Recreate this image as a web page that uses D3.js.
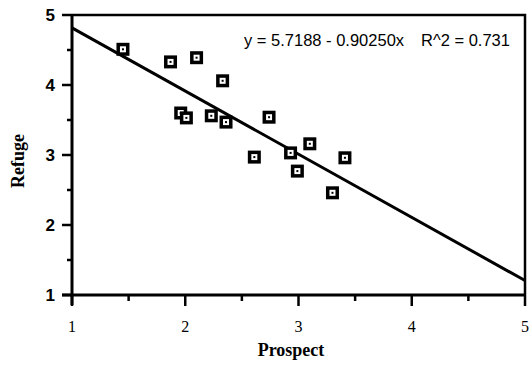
<!DOCTYPE html>
<html>
<head>
<meta charset="utf-8">
<script src="https://cdn.jsdelivr.net/npm/d3@7"></script>
<style>
  html, body { margin: 0; padding: 0; background: #fff; }
  svg { display: block; }
</style>
</head>
<body>
<svg id="chart" width="529" height="366"></svg>
<script>
// Prospect vs. refuge ratings with a least-squares fit
const prospect = [1.45, 1.87, 2.10, 2.33, 1.96, 2.01, 2.23, 2.36, 2.61, 2.74, 2.93, 3.10, 2.99, 3.41, 3.30];
const refuge   = [4.51, 4.33, 4.39, 4.06, 3.60, 3.53, 3.56, 3.47, 2.97, 3.54, 3.03, 3.16, 2.77, 2.96, 2.46];
const fitIntercept = 5.7188;
const fitSlope = -0.90250;
const rSquared = 0.731;
const xTicks = [1, 2, 3, 4, 5];
const yTicks = [1, 2, 3, 4, 5];
const xMinorTicks = [1.5, 2.5, 3.5, 4.5];
const yMinorTicks = [1.5, 2.5, 3.5, 4.5];

const svg = d3.select("#chart");
const plotLeft = 72, plotRight = 525, plotTop = 15, plotBottom = 295;

const x = d3.scaleLinear().domain([1, 5]).range([plotLeft, plotRight]);
const y = d3.scaleLinear().domain([1, 5]).range([plotBottom, plotTop]);

// Frame on the top and right
svg.append("path")
  .attr("d", `M${plotLeft},${plotTop}H${plotRight}V${plotBottom}`)
  .attr("fill", "none").attr("stroke", "#000").attr("stroke-width", 2.5);

// Left axis
const yAxis = svg.append("g").attr("transform", `translate(${plotLeft},0)`);
yAxis.append("line").attr("x1", 0).attr("x2", 0).attr("y1", plotTop).attr("y2", plotBottom + 10)
  .attr("stroke", "#000").attr("stroke-width", 3);
yAxis.selectAll(".maj").data(yTicks).join("line").attr("class", "maj")
  .attr("x1", -10).attr("x2", 0).attr("y1", d => y(d)).attr("y2", d => y(d))
  .attr("stroke", "#000").attr("stroke-width", 2.5);
yAxis.selectAll(".min").data(yMinorTicks).join("line").attr("class", "min")
  .attr("x1", -5).attr("x2", 0).attr("y1", d => y(d)).attr("y2", d => y(d))
  .attr("stroke", "#000").attr("stroke-width", 2.5);
yAxis.selectAll("text").data(yTicks).join("text")
  .attr("x", -17).attr("y", d => y(d)).attr("dy", "0.36em")
  .attr("text-anchor", "end")
  .attr("font-family", "Liberation Sans, Arial, sans-serif")
  .attr("font-weight", "bold").attr("font-size", 17)
  .text(d => d);

// Bottom axis
const xAxis = svg.append("g").attr("transform", `translate(0,${plotBottom})`);
xAxis.append("line").attr("x1", plotLeft - 10).attr("x2", plotRight).attr("y1", 0).attr("y2", 0)
  .attr("stroke", "#000").attr("stroke-width", 3);
xAxis.selectAll(".maj").data(xTicks).join("line").attr("class", "maj")
  .attr("x1", d => x(d)).attr("x2", d => x(d)).attr("y1", 0).attr("y2", 11)
  .attr("stroke", "#000").attr("stroke-width", 2.5);
xAxis.selectAll(".min").data(xMinorTicks).join("line").attr("class", "min")
  .attr("x1", d => x(d)).attr("x2", d => x(d)).attr("y1", 0).attr("y2", 6)
  .attr("stroke", "#000").attr("stroke-width", 2.5);
xAxis.selectAll("text").data(xTicks).join("text")
  .attr("x", d => x(d)).attr("y", 37)
  .attr("text-anchor", "middle")
  .attr("font-family", "Liberation Serif, Times New Roman, serif")
  .attr("font-size", 16)
  .text(d => d);

// Axis titles
svg.append("text")
  .attr("x", 291).attr("y", 356)
  .attr("text-anchor", "middle")
  .attr("font-family", "Liberation Serif, Times New Roman, serif")
  .attr("font-weight", "bold").attr("font-size", 18)
  .text("Prospect");
svg.append("text")
  .attr("transform", "translate(24,161) rotate(-90)")
  .attr("text-anchor", "middle")
  .attr("font-family", "Liberation Serif, Times New Roman, serif")
  .attr("font-weight", "bold").attr("font-size", 18)
  .text("Refuge");

// Fitted line
const fit = v => fitIntercept + fitSlope * v;
svg.append("line")
  .attr("x1", x(1)).attr("y1", y(fit(1)))
  .attr("x2", x(5)).attr("y2", y(fit(5)))
  .attr("stroke", "#000").attr("stroke-width", 3);

// Data markers: filled square with a white core and a centre dot
const pts = prospect.map((p, i) => ({ p, r: refuge[i] }));
const mk = svg.append("g").selectAll("g").data(pts).join("g")
  .attr("transform", d => `translate(${x(d.p)},${y(d.r)})`);
mk.append("rect").attr("x", -6.5).attr("y", -6.5).attr("width", 13).attr("height", 13).attr("fill", "#000");
mk.append("rect").attr("x", -3).attr("y", -3).attr("width", 6).attr("height", 6).attr("fill", "#fff");
mk.append("rect").attr("x", -1).attr("y", -1).attr("width", 2).attr("height", 2).attr("fill", "#000");

// Equation annotation
const eqFont = "Liberation Sans, Arial, sans-serif";
svg.append("text")
  .attr("x", 244).attr("y", 46)
  .attr("font-family", eqFont).attr("font-size", 16.5)
  .text(`y = ${fitIntercept.toFixed(4)} - ${Math.abs(fitSlope).toFixed(5)}x`);
svg.append("text")
  .attr("x", 421).attr("y", 46)
  .attr("font-family", eqFont).attr("font-size", 16.5)
  .text(`R^2 = ${rSquared}`);
</script>
</body>
</html>
